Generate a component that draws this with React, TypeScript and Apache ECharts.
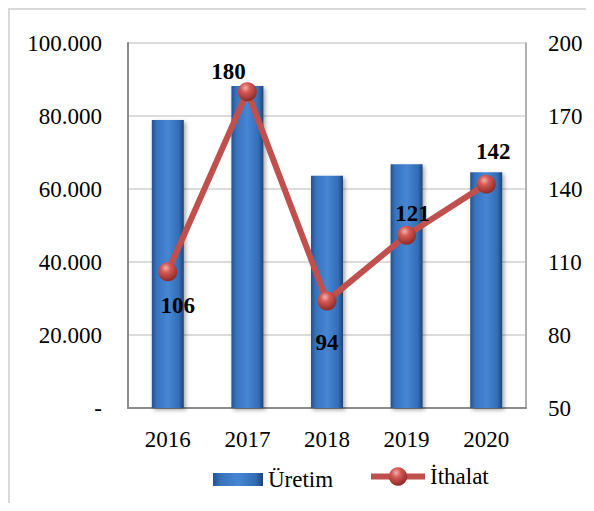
import React, { useEffect, useRef } from "react";
import * as echarts from "echarts";

const categories = ["2016", "2017", "2018", "2019", "2020"];
const uretim = [78900, 88200, 63600, 66800, 64600];
const ithalat = [106, 180, 94, 121, 142];
const leftTicks = [0, 20000, 40000, 60000, 80000, 100000];
const rightTicks = [50, 80, 110, 140, 170, 200];
// label offsets for the İthalat data labels [dx, dy]
const labelOffsets: [number, number][] = [
  [10, 34],
  [-19, -20],
  [0, 42],
  [6, -22],
  [7, -33],
];

const FONT = "Liberation Serif";
const FS = 23;

function fmtLeft(v: number): string {
  if (v === 0) return "-";
  const s = String(Math.round(v));
  return s.replace(/\B(?=(\d{3})+(?!\d))/g, ".");
}

export default function App() {
  const ref = useRef<HTMLDivElement>(null);
  useEffect(() => {
    if (!ref.current) return;
    const chart = echarts.init(ref.current, null, { renderer: "svg" });
    const barGradient = new echarts.graphic.LinearGradient(0, 0, 1, 0, [
      { offset: 0, color: "#24528f" },
      { offset: 0.15, color: "#3872bd" },
      { offset: 0.5, color: "#4686d3" },
      { offset: 0.85, color: "#336db6" },
      { offset: 1, color: "#1c4478" },
    ]);
    const ballGradient = new echarts.graphic.RadialGradient(0.4, 0.3, 0.7, [
      { offset: 0, color: "#f4b0ae" },
      { offset: 0.35, color: "#d55a56" },
      { offset: 1, color: "#8e2a27" },
    ]);
    const legendText = { fontFamily: FONT, fontSize: FS, color: "#000" };
    chart.setOption({
      animation: false,
      textStyle: { fontFamily: FONT },
      grid: {
        left: 118,
        right: 68,
        top: 33,
        bottom: 95,
        show: true,
        borderColor: "#a6a6a6",
        borderWidth: 1,
        containLabel: false,
      },
      legend: [
        {
          left: 198,
          top: 453,
          itemWidth: 50,
          itemHeight: 13,
          textStyle: legendText,
          data: [{ name: "Üretim", icon: "rect" }],
        },
        {
          left: 353,
          top: 450,
          itemWidth: 54,
          itemHeight: 23,
          textStyle: legendText,
          lineStyle: { width: 6 },
          data: [{ name: "İthalat" }],
        },
      ],
      xAxis: {
        type: "category",
        data: categories,
        axisTick: { show: false },
        axisLine: { show: true, lineStyle: { color: "#8c8c8c", width: 2 } },
        axisLabel: { fontFamily: FONT, fontSize: FS, color: "#000", margin: 20 },
      },
      yAxis: [
        {
          type: "value",
          min: leftTicks[0],
          max: leftTicks[leftTicks.length - 1],
          interval: 20000,
          axisLine: { show: true, lineStyle: { color: "#8c8c8c", width: 2 } },
          axisTick: { show: false },
          splitLine: { show: true, lineStyle: { color: "#dcdcdc", width: 2 } },
          axisLabel: {
            fontFamily: FONT,
            fontSize: FS,
            color: "#000",
            margin: 26,
            formatter: (v: number) => fmtLeft(v),
          },
        },
        {
          type: "value",
          min: rightTicks[0],
          max: rightTicks[rightTicks.length - 1],
          position: "right",
          axisLine: { show: true, lineStyle: { color: "#a6a6a6", width: 1.5 } },
          axisTick: { show: false },
          splitLine: { show: false },
          axisLabel: {
            fontFamily: FONT,
            fontSize: FS,
            color: "#000",
            margin: 22,
            customValues: rightTicks,
          },
        },
      ],
      series: [
        {
          name: "Üretim",
          type: "bar",
          data: uretim,
          barWidth: 32,
          itemStyle: {
            color: barGradient,
            shadowBlur: 4,
            shadowColor: "rgba(0,0,0,0.35)",
            shadowOffsetX: 2,
            shadowOffsetY: 2,
          },
        },
        {
          name: "İthalat",
          type: "line",
          yAxisIndex: 1,
          data: ithalat.map((v, i) => ({
            value: v,
            label: { offset: labelOffsets[i] },
          })),
          symbol: "circle",
          symbolSize: 19,
          lineStyle: { color: "#c0504d", width: 6 },
          itemStyle: { color: ballGradient, borderWidth: 0 },
          label: {
            show: true,
            position: "inside",
            fontFamily: FONT,
            fontSize: FS,
            fontWeight: "bold",
            color: "#000",
          },
          z: 3,
        },
      ],
    });
    return () => chart.dispose();
  }, []);
  return (
    <div
      style={{
        width: 584,
        height: 493,
        borderLeft: "2px solid #d9d9d9",
        borderTop: "2px solid #d9d9d9",
      }}
    >
      <div ref={ref} style={{ width: 584, height: 493 }} />
    </div>
  );
}
